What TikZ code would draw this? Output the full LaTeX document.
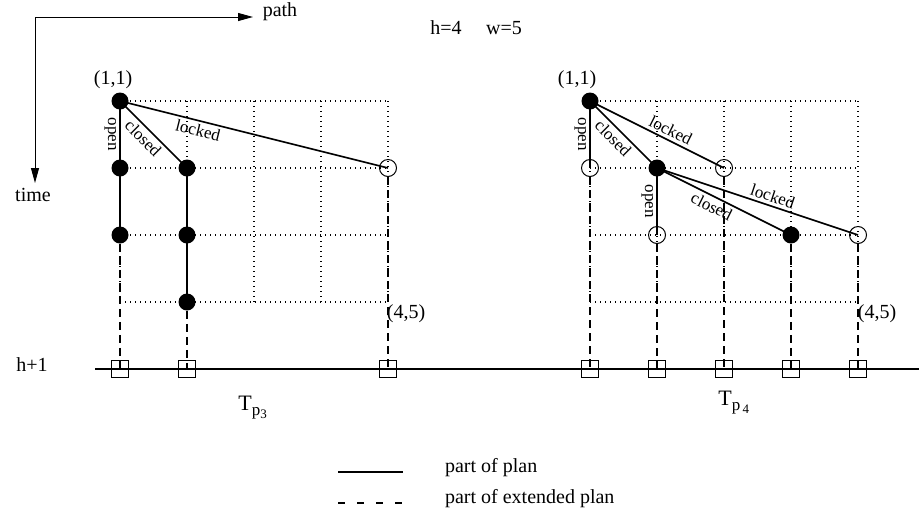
\documentclass[tikz,border=0pt]{standalone}
\usepackage{fontspec}
\setmainfont{Liberation Serif}
\usetikzlibrary{arrows.meta}

\newcommand{\treelbl}[1]{%
  {\fontsize{11}{12}\selectfont T}\raisebox{-2.5pt}{\fontsize{8.5}{9}\selectfont p\raisebox{-1.5pt}{\fontsize{6.5}{7}\selectfont #1}}}

\begin{document}
\begin{tikzpicture}[
  x=0.5pt, y=-0.5pt,
  font=\fontsize{10}{12}\selectfont,
  dotnode/.style={circle, fill=black, inner sep=0pt, minimum size=8.5pt},
  opennode/.style={circle, draw, line width=0.5pt, inner sep=0pt, minimum size=8.5pt},
  endbox/.style={rectangle, draw, line width=0.5pt, inner sep=0pt, minimum size=8.5pt},
  gridline/.style={line width=0.65pt, dash pattern=on 0.65pt off 1.85pt},
  planline/.style={line width=0.8pt},
  extline/.style={line width=0.8pt, dash pattern=on 4pt off 2.5pt},
  keydash/.style={line width=0.8pt, dash pattern=on 3.5pt off 6pt},
  levelline/.style={line width=1pt},
  edgelbl/.style={font=\fontsize{8.5}{9}\selectfont, inner sep=1.5pt},
  axis/.style={line width=0.5pt, -{Triangle[length=7.5pt, width=4pt]}},
]

\useasboundingbox (0,0) rectangle (919,515);

%% ── Axes ──────────────────────────────────────────────────────────────────
\coordinate (origin)  at (35,17);
\coordinate (pathend) at (253,17);
\coordinate (timeend) at (35,183);
\draw[axis] (origin) -- (pathend);
\draw[axis] (origin) -- (timeend);
\node (pathlbl) at (280,12)  {path};
\node (timelbl) at (33,195)  {time};
\node (hlbl)    at (446,28)  {h=4};
\node (wlbl)    at (504,28)  {w=5};

%% ── Dotted grids (h x w points) ───────────────────────────────────────────
\draw[gridline] (120,101) -- (388,101) (120,168) -- (388,168)
                (120,235) -- (388,235) (120,302) -- (388,302);
\draw[gridline] (120,101) -- (120,302) (187,101) -- (187,302) (254,101) -- (254,302)
                (321,101) -- (321,302) (388,101) -- (388,302);
\draw[gridline] (590,101) -- (858,101) (590,168) -- (858,168)
                (590,235) -- (858,235) (590,302) -- (858,302);
\draw[gridline] (590,101) -- (590,302) (657,101) -- (657,302) (724,101) -- (724,302)
                (791,101) -- (791,302) (858,101) -- (858,302);

%% ── Level h+1 ─────────────────────────────────────────────────────────────
\coordinate (hstart) at (95,369);
\coordinate (hend)   at (919,369);
\draw[levelline] (hstart) -- (hend);
\node (levellbl) at (32,365) {h+1};

\node[endbox] (lq1) at (120,369) {};
\node[endbox] (lq2) at (187,369) {};
\node[endbox] (lq5) at (388,369) {};
\node[endbox] (rq1) at (590,369) {};
\node[endbox] (rq2) at (657,369) {};
\node[endbox] (rq3) at (724,369) {};
\node[endbox] (rq4) at (791,369) {};
\node[endbox] (rq5) at (858,369) {};

%% ── Plan T_p3 (left) ──────────────────────────────────────────────────────
\node[dotnode]  (l11) at (120,101) {};
\node[dotnode]  (l21) at (120,168) {};
\node[dotnode]  (l31) at (120,235) {};
\node[dotnode]  (l22) at (187,168) {};
\node[dotnode]  (l32) at (187,235) {};
\node[dotnode]  (l42) at (187,302) {};
\node[opennode] (l25) at (388,168) {};

\node (lstart) at (113,80)  {(1,1)};
\node (lend)   at (406,314) {(4,5)};
\node[anchor=base west, inner sep=0pt] (ltree) at (238,410) {\treelbl{3}};

\draw[planline] (l11.center) -- node[edgelbl, anchor=north, rotate=-90] {open} (l21.center);
\draw[planline] (l21.center) -- (l31.center);
\draw[planline] (l11.center) -- node[edgelbl, pos=.45, below, sloped] {closed} (l22.center);
\draw[planline] (l22.center) -- (l32.center);
\draw[planline] (l32.center) -- (l42.center);
\draw[planline] (l11.center) -- node[edgelbl, pos=.3, below, sloped] {locked} (l25.center);

\draw[extline] (l31) -- (lq1.center);
\draw[extline] (l42) -- (lq2.center);
\draw[extline] (l25) -- (lq5.center);

%% ── Plan T_p4 (right) ─────────────────────────────────────────────────────
\node[dotnode]  (r11) at (590,101) {};
\node[opennode] (r21) at (590,168) {};
\node[dotnode]  (r22) at (657,168) {};
\node[opennode] (r23) at (724,168) {};
\node[opennode] (r32) at (657,235) {};
\node[dotnode]  (r34) at (791,235) {};
\node[opennode] (r35) at (858,235) {};

\node (rstart) at (577,80)  {(1,1)};
\node (rend)   at (877,314) {(4,5)};
\node[anchor=base west, inner sep=0pt] (rtree) at (718,405) {\treelbl{\,4}};

\draw[planline] (r11.center) -- node[edgelbl, anchor=north, rotate=-90] {open} (r21.center);
\draw[planline] (r11.center) -- node[edgelbl, pos=.45, below, sloped] {closed} (r22.center);
\draw[planline] (r11.center) -- node[edgelbl, pos=.57, above, sloped] {locked} (r23.center);
\draw[planline] (r22.center) -- node[edgelbl, anchor=north, rotate=-90] {open} (r32.center);
\draw[planline] (r22.center) -- node[edgelbl, pos=.44, below, sloped] {closed} (r34.center);
\draw[planline] (r22.center) -- node[edgelbl, pos=.56, above, sloped] {locked} (r35.center);

\draw[extline] (r21) -- (rq1.center);
\draw[extline] (r32) -- (rq2.center);
\draw[extline] (r23) -- (rq3.center);
\draw[extline] (r34) -- (rq4.center);
\draw[extline] (r35) -- (rq5.center);

%% ── Legend ────────────────────────────────────────────────────────────────
\coordinate (keyA) at (338,472);
\coordinate (keyB) at (403,472);
\coordinate (keyC) at (338,503);
\coordinate (keyD) at (403,503);
\draw[planline] (keyA) -- (keyB);
\draw[keydash]  (keyC) -- (keyD);
\node[anchor=base west] (keyplan) at (438,472) {part of plan};
\node[anchor=base west] (keyext)  at (438,503) {part of extended plan};

\end{tikzpicture}
\end{document}
